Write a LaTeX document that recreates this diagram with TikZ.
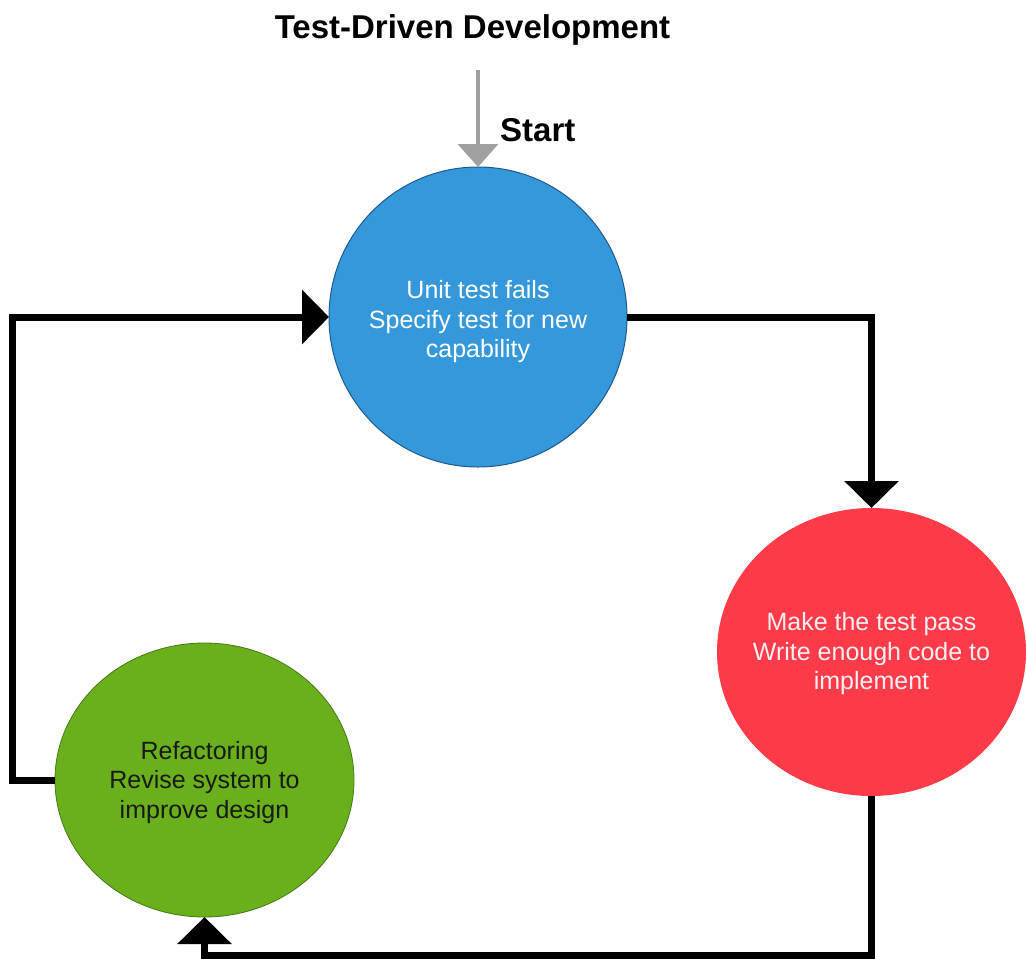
\documentclass[tikz,border=0pt]{standalone}
\usepackage{fontspec}
\setmainfont{Liberation Sans}
\usetikzlibrary{arrows.meta,shapes.geometric}
\definecolor{tddblue}{RGB}{52,152,219}
\definecolor{tddblueedge}{RGB}{30,90,140}
\definecolor{tddred}{RGB}{255,59,74}
\definecolor{tddgreen}{RGB}{106,176,28}
\definecolor{tddgreenedge}{RGB}{70,120,20}
\definecolor{tddgray}{RGB}{160,160,160}
\tikzset{
  phase/.style={ellipse, inner sep=0pt, outer sep=0pt},
  phasetext/.style={align=center, inner sep=0pt,
    font=\fontsize{25}{29.5}\selectfont},
  flow/.style={line width=7pt, black, -{Triangle[width=53pt,length=27pt]}},
  startarrow/.style={line width=3.5pt, tddgray, -{Triangle[width=40pt,length=23pt]}},
  heading/.style={font=\fontsize{33}{38}\selectfont\bfseries, inner sep=0pt}
}
\begin{document}
\begin{tikzpicture}[x=1pt,y=-1pt]
\useasboundingbox (0,0) rectangle (1026,959);
\node[heading] (title) at (472.5,30) {Test-Driven Development};
\node[phase, fill=tddblue, draw=tddblueedge, line width=1pt,
      minimum width=298pt, minimum height=300pt] (blue) at (478,317) {};
\node[phasetext, text=white] (bluetext) at (478,322)
      {Unit test fails\\Specify test for new\\capability};
\node[phase, fill=tddred,
      minimum width=309pt, minimum height=288pt] (red) at (871.5,652) {};
\node[phasetext, text=white!92!tddred] (redtext) at (871.5,654)
      {Make the test pass\\Write enough code to\\implement};
\node[phase, fill=tddgreen, draw=tddgreenedge, line width=0.8pt,
      minimum width=299pt, minimum height=274pt] (green) at (204.5,780) {};
\node[phasetext, text=black!90] (greentext) at (204.5,782.5)
      {Refactoring\\Revise system to\\improve design};
\coordinate (startpt) at (478,70);
\draw[startarrow] (startpt) -- (blue.north);
\node[heading, anchor=base west] (start) at (500,141) {Start};
\draw[flow] (blue.east) -| (red.north);
\draw[flow] (red.south) -- ++(0,159.5) -| (green.south);
\draw[flow] (green.west) -- ++(-43,0) |- (blue.west);
\end{tikzpicture}
\end{document}
